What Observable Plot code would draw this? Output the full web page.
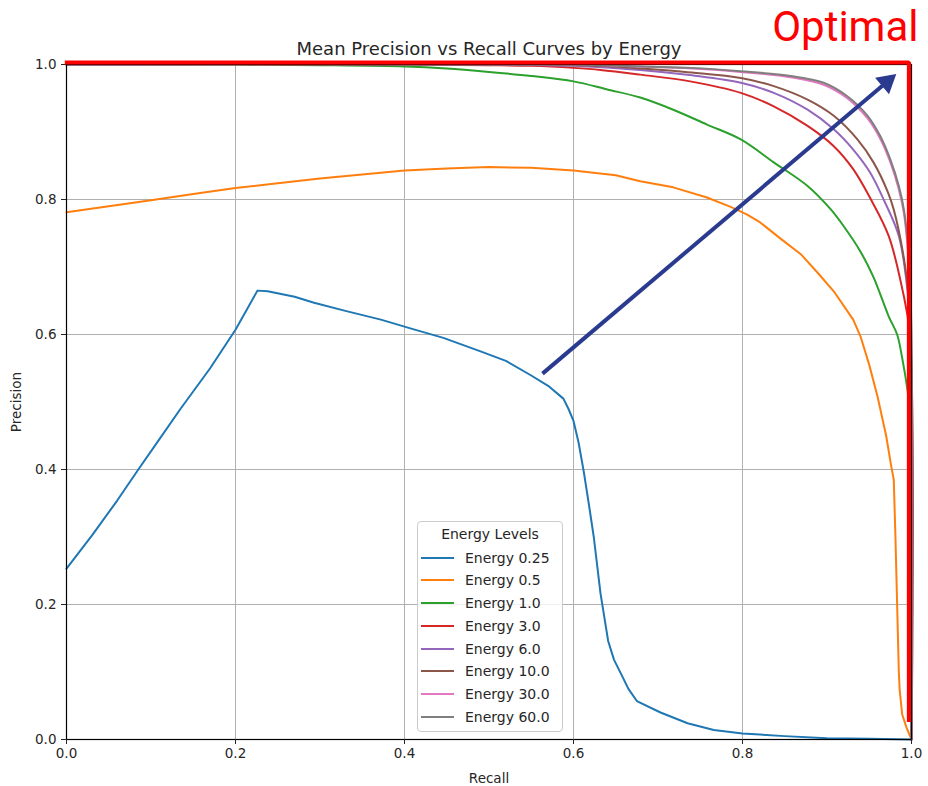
<!DOCTYPE html>
<html>
<head>
<meta charset="utf-8">
<script src="https://cdn.jsdelivr.net/npm/d3@7"></script>
<script src="https://cdn.jsdelivr.net/npm/@observablehq/plot@0.6"></script>
<style>
  body { margin: 0; background: #fff; }
  #wrap { position: relative; width: 928px; height: 786px; }
  #legend {
    position: absolute; left: 417px; top: 521px; width: 144px; height: 209px;
    border: 1px solid #cccccc; border-radius: 4px; background: rgba(255,255,255,0.8);
    font-family: "DejaVu Sans", sans-serif; font-size: 14px; color: #262626;
  }
  #legend .title { position: absolute; left: 0; right: 0; top: 3px; text-align: center; line-height: 18px; }
  #legend .row { position: absolute; left: 0; height: 18px; line-height: 18px; }
  #legend .sw { position: absolute; left: 3px; top: 8px; width: 33px; height: 2px; }
  #legend .lb { position: absolute; left: 47px; top: 0; white-space: nowrap; }
</style>
</head>
<body>
<div id="wrap"></div>
<script>
// ---- data ----
const energies = ["Energy 0.25", "Energy 0.5", "Energy 1.0", "Energy 3.0", "Energy 6.0", "Energy 10.0", "Energy 30.0", "Energy 60.0"];
const colors = ["#1f77b4", "#ff7f0e", "#2ca02c", "#d62728", "#9467bd", "#8c564b", "#e377c2", "#7f7f7f"];
const xTicks = [0, 0.2, 0.4, 0.6, 0.8, 1.0];
const yTicks = [0, 0.2, 0.4, 0.6, 0.8, 1.0];

// [recall, precision]
const e0_25 = [[0,0.253],[0.03,0.302],[0.06,0.354],[0.085,0.40],[0.11,0.445],[0.135,0.49],[0.17,0.55],[0.2,0.607],[0.226,0.665],[0.238,0.664],[0.27,0.656],[0.293,0.647],[0.33,0.635],[0.372,0.622],[0.41,0.608],[0.446,0.595],[0.49,0.575],[0.52,0.561],[0.549,0.54],[0.57,0.524],[0.588,0.505],[0.594,0.49],[0.6,0.472],[0.606,0.44],[0.612,0.398],[0.618,0.35],[0.624,0.3],[0.632,0.216],[0.641,0.146],[0.648,0.118],[0.656,0.098],[0.665,0.075],[0.675,0.057],[0.703,0.04],[0.735,0.024],[0.766,0.014],[0.8,0.009],[0.85,0.005],[0.9,0.002],[0.95,0.001],[1.0,0.0]];
const e0_5 = [[0,0.781],[0.05,0.79],[0.1,0.799],[0.15,0.808],[0.2,0.817],[0.25,0.824],[0.3,0.831],[0.35,0.837],[0.4,0.843],[0.45,0.846],[0.5,0.848],[0.55,0.847],[0.6,0.843],[0.65,0.836],[0.679,0.827],[0.718,0.818],[0.758,0.803],[0.786,0.789],[0.805,0.778],[0.821,0.766],[0.845,0.742],[0.869,0.719],[0.89,0.69],[0.908,0.664],[0.931,0.622],[0.94,0.596],[0.95,0.555],[0.96,0.507],[0.97,0.45],[0.976,0.405],[0.979,0.385],[0.981,0.3],[0.983,0.2],[0.985,0.1],[0.986,0.073],[0.989,0.037],[0.994,0.018],[1.0,0.0]];
const e1_0 = [[0,1.0],[0.2,1.0],[0.3,0.999],[0.4,0.997],[0.45,0.994],[0.5,0.989],[0.55,0.983],[0.6,0.975],[0.64,0.963],[0.679,0.951],[0.718,0.933],[0.758,0.911],[0.798,0.889],[0.837,0.855],[0.877,0.82],[0.904,0.786],[0.92,0.76],[0.94,0.722],[0.955,0.685],[0.973,0.627],[0.983,0.6],[0.989,0.565],[0.995,0.52],[0.998,0.487],[1.0,0.0]];
const e3_0 = [[0,1.0],[0.4,1.0],[0.5,0.999],[0.55,0.998],[0.6,0.995],[0.632,0.992],[0.679,0.985],[0.738,0.975],[0.798,0.958],[0.837,0.938],[0.877,0.909],[0.908,0.879],[0.931,0.845],[0.952,0.8],[0.973,0.746],[0.989,0.668],[0.998,0.6],[1.0,0.0]];
const e6_0 = [[0,1.0],[0.5,1.0],[0.6,0.998],[0.679,0.992],[0.74,0.984],[0.798,0.973],[0.837,0.958],[0.877,0.933],[0.908,0.904],[0.931,0.874],[0.951,0.84],[0.967,0.8],[0.985,0.746],[0.995,0.668],[0.999,0.6],[1.0,0.0]];
const e10_0 = [[0,1.0],[0.55,1.0],[0.63,0.998],[0.679,0.994],[0.74,0.988],[0.798,0.98],[0.837,0.968],[0.877,0.948],[0.908,0.924],[0.936,0.889],[0.955,0.855],[0.972,0.811],[0.979,0.785],[0.99,0.72],[0.997,0.65],[1.0,0.0]];
const e30_0 = [[0,1.0],[0.6,1.0],[0.679,0.997],[0.74,0.994],[0.798,0.989],[0.857,0.981],[0.896,0.97],[0.924,0.95],[0.948,0.92],[0.963,0.89],[0.975,0.855],[0.985,0.815],[0.991,0.78],[0.996,0.72],[0.999,0.65],[1.0,0.0]];
const e60_0 = [[0,1.0],[0.6,1.0],[0.679,0.997],[0.74,0.995],[0.798,0.99],[0.857,0.983],[0.896,0.973],[0.924,0.953],[0.948,0.924],[0.963,0.894],[0.975,0.859],[0.985,0.82],[0.991,0.785],[0.996,0.73],[0.999,0.66],[1.0,0.0]];

// annotations, in data units
const optimal = [[-0.002,1.003],[0.997,1.003],[0.997,0.026]];
const arrowPts = [[0.5633,0.542],[0.982,0.986]];

const titleText = "Mean Precision vs Recall Curves by Energy";
const xLabel = "Recall";
const yLabel = "Precision";
const optimalText = "Optimal";
const legendTitle = "Energy Levels";

// ---- build ----
const W = 928, H = 786, mL = 66, mR = 17, mT = 64, mB = 47;
const series = [e0_25, e0_5, e1_0, e3_0, e6_0, e10_0, e30_0, e60_0];
const toRows = (idx) => idx.flatMap(i => series[i].map(([r, p]) => ({energy: energies[i], recall: r, precision: p})));
const rowsSharp = toRows([0, 1]);
const rowsSmooth = toRows([2, 3, 4, 5, 6, 7]);

// arrow geometry (pixel-space direction from data points)
const pxX = W - mL - mR, pxY = H - mT - mB;
const [[ax0, ay0], [ax1, ay1]] = arrowPts;
const ddx = (ax1 - ax0) * pxX, ddy = -(ay1 - ay0) * pxY;
const len = Math.hypot(ddx, ddy);
const ux = ddx / len, uy = ddy / len;
const headR = 8;
const tipBack = 2 * Math.sqrt(Math.PI * headR * headR / (3 * Math.sqrt(3)));
const baseBack = 1.5 * tipBack;
const headCenter = [ax1 - ux * tipBack / pxX, ay1 + uy * tipBack / pxY];
const shaftEnd = [ax1 - ux * (baseBack - 2) / pxX, ay1 + uy * (baseBack - 2) / pxY];
const angle = Math.atan2(ux, -uy) * 180 / Math.PI;
const navy = "#2a3a8f";
const fmt = d3.format(".1f");
const font = "DejaVu Sans";

const plot = Plot.plot({
  width: W, height: H,
  marginLeft: mL, marginRight: mR, marginTop: mT, marginBottom: mB,
  style: {fontFamily: font, fontSize: "13.5px", color: "#262626", background: "#fff"},
  x: {domain: [0, 1]},
  y: {domain: [0, 1]},
  color: {domain: energies, range: colors},
  marks: [
    Plot.gridX(xTicks, {stroke: "#b0b0b0", strokeOpacity: 1, strokeWidth: 1}),
    Plot.gridY(yTicks, {stroke: "#b0b0b0", strokeOpacity: 1, strokeWidth: 1}),
    Plot.line(rowsSharp, {x: "recall", y: "precision", z: "energy", stroke: "energy", strokeWidth: 2}),
    Plot.line(rowsSmooth, {x: "recall", y: "precision", z: "energy", stroke: "energy", strokeWidth: 2, curve: "catmull-rom"}),
    Plot.frame({stroke: "#000", strokeWidth: 1.2}),
    Plot.axisX(xTicks, {tickFormat: fmt, tickSize: 5, tickPadding: 4, fontSize: 13.5,
      label: xLabel, labelAnchor: "center", labelOffset: 43, labelArrow: "none"}),
    Plot.axisY(yTicks, {tickFormat: fmt, tickSize: 5, tickPadding: 5, fontSize: 13.5,
      label: yLabel, labelAnchor: "center", labelOffset: 55, labelArrow: "none"}),
    Plot.line(optimal, {x: d => d[0], y: d => d[1], stroke: "#ff0000", strokeWidth: 4.2, strokeLinejoin: "miter", strokeLinecap: "butt"}),
    Plot.link([[arrowPts[0], shaftEnd]], {x1: d => d[0][0], y1: d => d[0][1], x2: d => d[1][0], y2: d => d[1][1], stroke: navy, strokeWidth: 4}),
    Plot.dot([headCenter], {x: d => d[0], y: d => d[1], symbol: "triangle", r: headR, rotate: angle, fill: navy, stroke: "none"}),
    Plot.text([titleText], {frameAnchor: "top", lineAnchor: "middle", dy: -15, fontSize: 18, fill: "#262626"}),
    Plot.text([optimalText], {frameAnchor: "top-right", lineAnchor: "middle", textAnchor: "end", dx: 7, dy: -37, fontSize: 42, fill: "#ff0000", fontFamily: "Roboto"})
  ]
});

const wrap = document.getElementById("wrap");
wrap.appendChild(plot);

// legend
const leg = document.createElement("div");
leg.id = "legend";
const t = document.createElement("div");
t.className = "title";
t.textContent = legendTitle;
leg.appendChild(t);
energies.forEach((e, i) => {
  const row = document.createElement("div");
  row.className = "row";
  row.style.top = (26.7 + i * 22.7) + "px";
  row.style.width = "144px";
  const sw = document.createElement("div");
  sw.className = "sw";
  sw.style.background = colors[i];
  const lb = document.createElement("div");
  lb.className = "lb";
  lb.textContent = e;
  row.appendChild(sw);
  row.appendChild(lb);
  leg.appendChild(row);
});
wrap.appendChild(leg);
</script>
</body>
</html>
